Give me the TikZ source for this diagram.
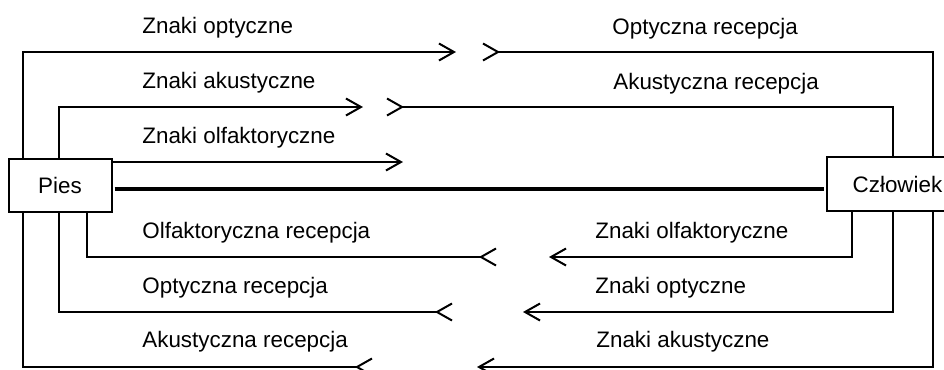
\documentclass[tikz,border=0pt]{standalone}
\usepackage{fontspec}
\setmainfont{Liberation Sans}
\usetikzlibrary{arrows.meta,calc}
\tikzset{
  box/.style={draw,line width=1pt,inner sep=0pt,outer sep=0pt,fill=white},
  sig/.style={line width=1pt,-{Straight Barb[length=7.5pt,width=8.5pt]}},
  rec/.style={line width=1pt,-{Straight Barb[length=7.5pt,width=8.5pt,reversed]}},
  lbl/.style={anchor=base west,inner sep=0pt}
}
\begin{document}
\begin{tikzpicture}[x=0.5pt,y=-0.5pt,font=\fontsize{11.2}{13.4}\selectfont]
\useasboundingbox (0,0) rectangle (944,370);
\node[box,minimum width=51.5pt,minimum height=26.5pt] (pies) at (60,185.5) {Pies};
\node[box,minimum width=70.5pt,minimum height=27pt] (czl) at (897.5,184) {Człowiek};
\draw[line width=2.2pt] ($(pies.east)+(3,3.5)$) -- ($(czl.west)+(-3,5)$);
% rows: left/right ends of the arrows
\coordinate (r1l) at (456,52);  \coordinate (r1r) at (482,52);
\coordinate (r2l) at (363,107); \coordinate (r2r) at (386,107);
\coordinate (r3l) at (403,162);
\coordinate (r4l) at (497,257); \coordinate (r4r) at (549,257);
\coordinate (r5l) at (453,312); \coordinate (r5r) at (523,312);
\coordinate (r6l) at (373,367); \coordinate (r6r) at (477,367);
% Pies -> Czlowiek
\draw[sig] ($(pies.north west)+(14,0)$) |- (r1l);
\draw[sig] ($(pies.north west)+(50,0)$) |- (r2l);
\draw[sig] (pies.east |- r3l) -- (r3l);
\draw[rec] ($(czl.north west)+(106,0)$) |- (r1r);
\draw[rec] ($(czl.north west)+(66,0)$) |- (r2r);
% Czlowiek -> Pies
\draw[rec] ($(pies.south west)+(78,0)$) |- (r4l);
\draw[rec] ($(pies.south west)+(50,0)$) |- (r5l);
\draw[rec] ($(pies.south west)+(14,0)$) |- (r6l);
\draw[sig] ($(czl.south west)+(25,0)$) |- (r4r);
\draw[sig] ($(czl.south west)+(66,0)$) |- (r5r);
\draw[sig] ($(czl.south west)+(106,0)$) |- (r6r);
\node[lbl] (t1) at (142,33) {Znaki optyczne};
\node[lbl] (t2) at (612,34) {Optyczna recepcja};
\node[lbl] (t3) at (142,88) {Znaki akustyczne};
\node[lbl] (t4) at (613,89) {Akustyczna recepcja};
\node[lbl] (t5) at (142,143) {Znaki olfaktoryczne};
\node[lbl] (t6) at (142,238) {Olfaktoryczna recepcja};
\node[lbl] (t7) at (595,238) {Znaki olfaktoryczne};
\node[lbl] (t8) at (142,293) {Optyczna recepcja};
\node[lbl] (t9) at (595,293) {Znaki optyczne};
\node[lbl] (t10) at (142,347) {Akustyczna recepcja};
\node[lbl] (t11) at (596,347) {Znaki akustyczne};
\end{tikzpicture}
\end{document}
